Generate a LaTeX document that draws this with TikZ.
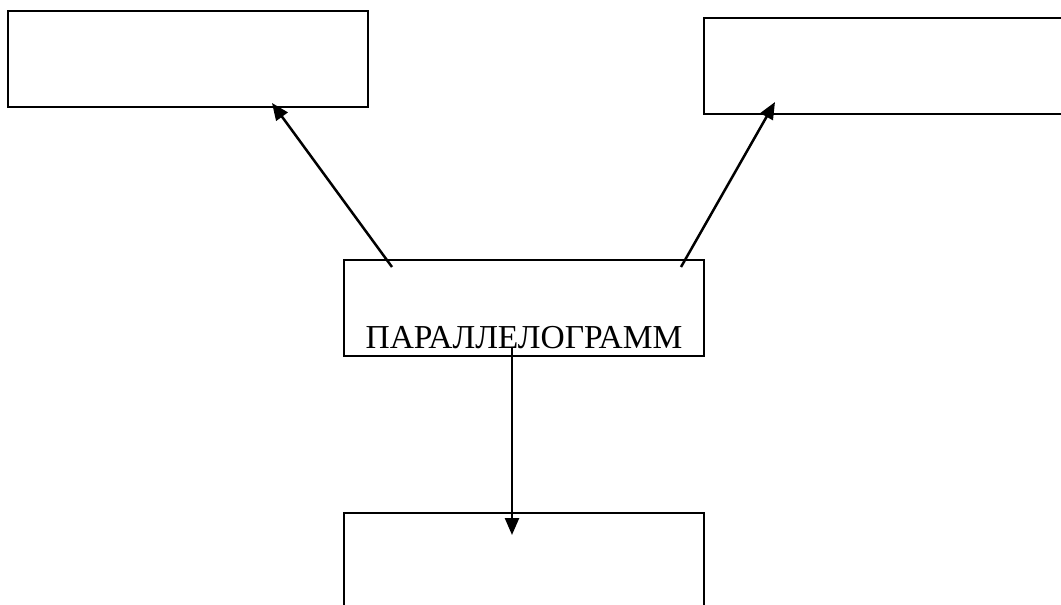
\documentclass[tikz,border=0pt]{standalone}
\usepackage{fontspec}
\setmainfont{Liberation Serif}
\usetikzlibrary{arrows.meta,calc}
\begin{document}
\begin{tikzpicture}[x=1pt,y=-1pt,
  box/.style={draw,line width=2pt,minimum width=360pt,minimum height=96pt,inner sep=0pt,anchor=north west},
  link/.style={line width=2.5pt,-{Triangle[length=17pt,width=14pt]}}]
  \useasboundingbox (0,0) rectangle (1061,605);
  \clip (0,0) rectangle (1061,605);
  % boxes
  \node[box] (tl) at (7,10) {};
  \node[box] (tr) at (703,17) {};
  \node[box] (mid) at (343,259) {};
  \node[box] (bot) at (343,512) {};
  % caption inside the middle box
  \node[anchor=base,inner sep=0pt,font=\fontsize{33.5}{33.5}\selectfont] (cap) at ($(mid.south)+(0,-9)$) {ПАРАЛЛЕЛОГРАММ};
  % anchor points of the connectors
  \coordinate (a1) at ($(mid.north west)+(49,8)$);
  \coordinate (a2) at ($(mid.north east)+(-24,8)$);
  \coordinate (a3) at ($(mid.south)+(-12,-10)$);
  \coordinate (b1) at ($(tl.south west)+(265,-5)$);
  \coordinate (b2) at ($(tr.south west)+(72,-13)$);
  \coordinate (b3) at ($(bot.north)+(-12,23)$);
  \draw[link] (a1) -- (b1);
  \draw[link] (a2) -- (b2);
  \draw[link] (a3) -- (b3);
\end{tikzpicture}
\end{document}
